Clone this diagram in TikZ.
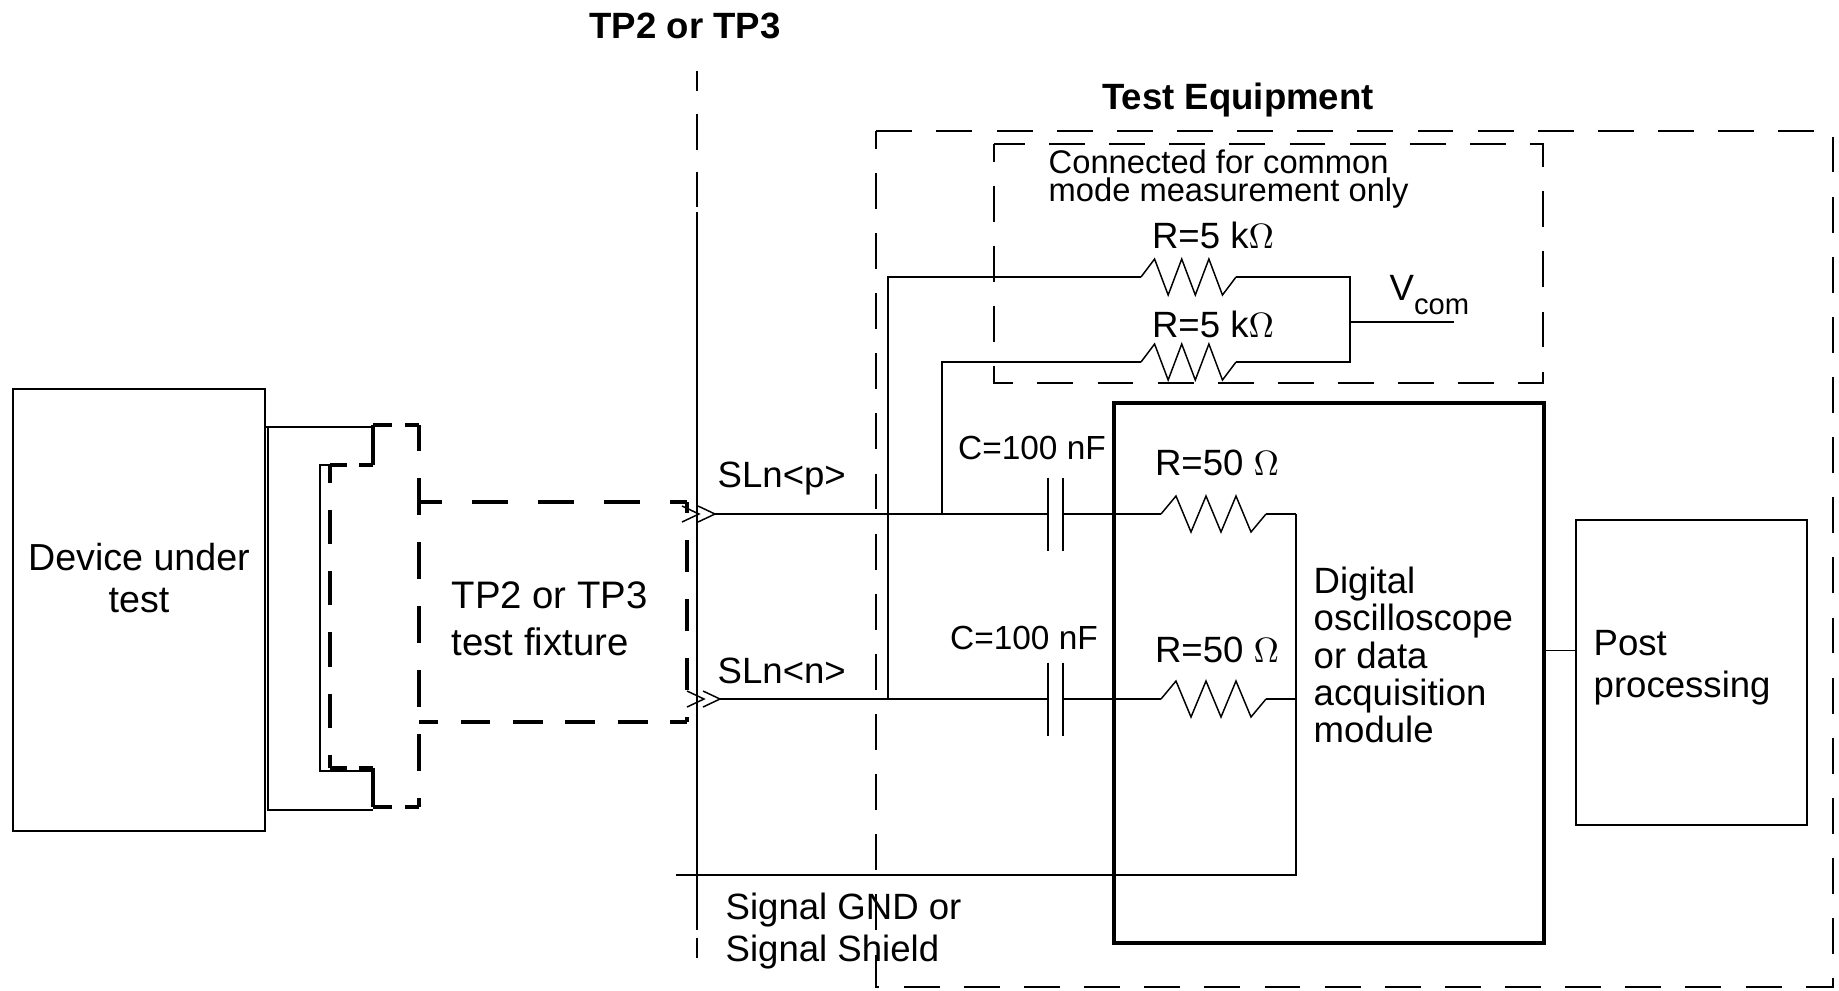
\documentclass[tikz,border=0pt]{standalone}
\usepackage{fontspec}
\setmainfont{Liberation Sans}
\usetikzlibrary{calc}
\tikzset{
	wire/.style={line width=0.42pt},
	labeltext/.style={inner sep=0pt,font=\fontsize{10.4}{12}\selectfont},
	titletext/.style={inner sep=0pt,font=\fontsize{10.4}{12}\selectfont\bfseries},
	thinbox/.style={draw,wire,inner sep=0pt},
	testdash/.style={wire,dash pattern=on 10.2pt off 6.9pt},
	fixline/.style={line width=0.9pt},
	pics/zigres/.style={code={\draw[wire] (0,0) -- (15,-18) -- (30,18) -- (45,-18) -- (60,18) -- (75,-18) -- (90,18) -- (105,0);}},
	pics/chevrons/.style={code={\draw[wire] (-17,-8) -- (0,0) -- (-17,8) (-33,-8) -- (-16,0) -- (-33,8);}}
}

\begin{document}
\begin{tikzpicture}[x=0.01cm,y=-0.01cm]
	\useasboundingbox (0,0) rectangle (1839,990);
	% y of the two signal lines
	\pgfmathsetmacro{\Ypos}{514}
	\pgfmathsetmacro{\Yneg}{699}

	% boxes
	\node[thinbox,minimum width=2.52cm,minimum height=4.42cm] (dut) at (139,610) {};
	\node[thinbox,minimum width=2.31cm,minimum height=3.05cm] (post) at (1691.5,672.5) {};
	\node[draw,line width=1pt,inner sep=0pt,minimum width=4.30cm,minimum height=5.40cm] (module) at (1329,673) {};
	\draw[testdash,dash phase=5.2pt] (876,131) rectangle (1833,987);
	\draw[testdash,dash phase=5.2pt] (994,144) rectangle (1543,383);

	% test point line
	\coordinate (tptop) at (697,71);
	\coordinate (tpbot) at (697,958);
	\draw[wire,dash pattern=on 5.7pt off 6.5pt on 10.2pt off 6.3pt on 10pt off 1.4pt on 204.3pt off 2pt on 6pt] (tptop) -- (tpbot);

	% fixture outline, every side has its own dashes
	\coordinate (fixa) at (373,425);
	\coordinate (fixb) at (419,425);
	\coordinate (fixc) at (419,807);
	\coordinate (fixd) at (373,807);
	\coordinate (fixe) at (373,768);
	\coordinate (fixf) at (330,768);
	\coordinate (fixg) at (330,465);
	\coordinate (fixh) at (373,465);
	\coordinate (fixi) at (419,502);
	\coordinate (fixj) at (687,502);
	\coordinate (fixk) at (687,722);
	\coordinate (fixl) at (419,722);
	\draw[fixline,dash pattern=on 5.4pt off 3.7pt] (fixa) -- (fixb);
	\draw[fixline,dash pattern=on 10.6pt off 7.6pt,dash phase=3.1pt] (fixb) -- (fixc);
	\draw[fixline,dash pattern=on 5.4pt off 3.7pt] (fixd) -- (fixc);
	\draw[fixline] (fixd) -- (fixe);
	\draw[fixline,dash pattern=on 4.8pt off 3.4pt] (fixf) -- (fixe);
	\draw[fixline,dash pattern=on 9.7pt off 7.7pt,dash phase=4.6pt] (fixg) -- (fixf);
	\draw[fixline,dash pattern=on 4.8pt off 3.4pt] (fixg) -- (fixh);
	\draw[fixline] (fixh) -- (fixa);
	\draw[fixline,dash pattern=on 10.2pt off 8.6pt,dash phase=3.7pt] (fixi) -- (fixj);
	\draw[fixline,dash pattern=on 9.1pt off 7.7pt,dash phase=6pt] (fixj) -- (fixk);
	\draw[fixline,dash pattern=on 8.5pt off 6.4pt,dash phase=3.1pt] (fixl) -- (fixk);

	% leads from device to fixture
	\coordinate (leadtop) at (373,427);
	\coordinate (leadbot) at (373,810);
	\draw[wire] (leadtop) -- (dut.east |- leadtop);
	\draw[wire] (268,427) -- (268,810) -- (leadbot);
	\coordinate (innertop) at (330,465);
	\coordinate (innerbot) at (373,771);
	\draw[wire] (innertop) -- (320,465) -- (320,771) -- (innerbot);

	% signal lines
	\coordinate (sigp) at (715,\Ypos);
	\coordinate (sign) at (720,\Yneg);
	\coordinate (cpa) at (1048,\Ypos);
	\coordinate (cpb) at (1063,\Ypos);
	\coordinate (cna) at (1048,\Yneg);
	\coordinate (cnb) at (1063,\Yneg);
	\coordinate (rpa) at (1161,\Ypos);
	\coordinate (rpb) at (1266,\Ypos);
	\coordinate (rna) at (1161,\Yneg);
	\coordinate (rnb) at (1266,\Yneg);
	\coordinate (sumtop) at (1296,\Ypos);
	\coordinate (sumbot) at (1296,\Yneg);
	\pic at (sigp) {chevrons};
	\pic at (sign) {chevrons};
	\draw[wire] (sigp) -- (cpa);
	\draw[wire] (sign) -- (cna);
	\draw[wire] (cpa) ++(0,-36.5) -- ++(0,73);
	\draw[wire] (cpb) ++(0,-36.5) -- ++(0,73);
	\draw[wire] (cna) ++(0,-36.5) -- ++(0,73);
	\draw[wire] (cnb) ++(0,-36.5) -- ++(0,73);
	\draw[wire] (cpb) -- (rpa);
	\draw[wire] (cnb) -- (rna);
	\pic at (rpa) {zigres};
	\pic at (rna) {zigres};
	\draw[wire] (rpb) -- (sumtop);
	\draw[wire] (rnb) -- (sumbot);

	% ground return
	\coordinate (gndl) at (676,875);
	\coordinate (gndr) at (1296,875);
	\draw[wire] (gndl) -- (gndr) -- (sumtop);

	% common mode branch
	\coordinate (tapn) at (888,\Yneg);
	\coordinate (tapp) at (942,\Ypos);
	\coordinate (cmta) at (1141,277);
	\coordinate (cmtb) at (1236,277);
	\coordinate (cmba) at (1141,362);
	\coordinate (cmbb) at (1236,362);
	\coordinate (vcmt) at (1350,277);
	\coordinate (vcmb) at (1350,362);
	\coordinate (vcma) at (1350,322);
	\coordinate (vcme) at (1454,322);
	\draw[wire] (tapn) -- (tapn |- cmta) -- (cmta);
	\draw[wire] (tapp) -- (tapp |- cmba) -- (cmba);
	\pic[xscale=.905] at (cmta) {zigres};
	\pic[xscale=.905] at (cmba) {zigres};
	\draw[wire] (cmtb) -- (vcmt) -- (vcmb) -- (cmbb);
	\draw[wire] (vcma) -- (vcme);

	% to post processing
	\coordinate (postin) at (1576,650.5);
	\draw[wire] (module.east |- postin) -- (postin);

	% texts
	\node[titletext] (tptitle) at (685,26) {TP2 or TP3};
	\node[titletext] (testtitle) at (1238,100) {Test Equipment};
	\node[labeltext,align=left,anchor=west,font=\fontsize{9.3}{7.7}\selectfont] (cmtext) at (1048,179) {Connected for common\\mode measurement only};
	\node[labeltext] (rtoptext) at (1213,235) {R=5 k$\Omega$};
	\node[labeltext] (rbottext) at (1213,324) {R=5 k$\Omega$};
	\node[labeltext,anchor=west] (vcomtext) at (1389,295) {V\raisebox{-.7ex}{\fontsize{8.3}{8.3}\selectfont com}};
	\node[labeltext] (rptext) at (1217,463) {R=50 $\Omega$};
	\node[labeltext] (rntext) at (1217,650) {R=50 $\Omega$};
	\node[labeltext,font=\fontsize{9.5}{12}\selectfont] (cptext) at (1032,448) {C=100 nF};
	\node[labeltext,font=\fontsize{9.5}{12}\selectfont] (cntext) at (1024,638) {C=100 nF};
	\node[labeltext,anchor=west] (slptext) at (717,479) {SLn<p>};
	\node[labeltext,anchor=west] (slntext) at (717,671) {SLn<n>};
	\node[labeltext,align=center,font=\fontsize{10.7}{11.7}\selectfont] (duttext) at (139,578) {Device under\\test};
	\node[labeltext,align=left,anchor=west,font=\fontsize{10.9}{13.4}\selectfont] (fixtext) at (451,619) {TP2 or TP3\\test fixture};
	\node[labeltext,align=left,anchor=west,font=\fontsize{10.4}{10.6}\selectfont] (modtext) at (1313,655) {Digital\\oscilloscope\\or data\\acquisition\\module};
	\node[labeltext,align=left,anchor=west,font=\fontsize{10.4}{12}\selectfont] (posttext) at (1593,668) {Post\\processing};
	\node[labeltext,align=left,anchor=west,font=\fontsize{10.4}{11.7}\selectfont] (gndtext) at (725,931) {Signal GND or\\Signal Shield};
\end{tikzpicture}
\end{document}
